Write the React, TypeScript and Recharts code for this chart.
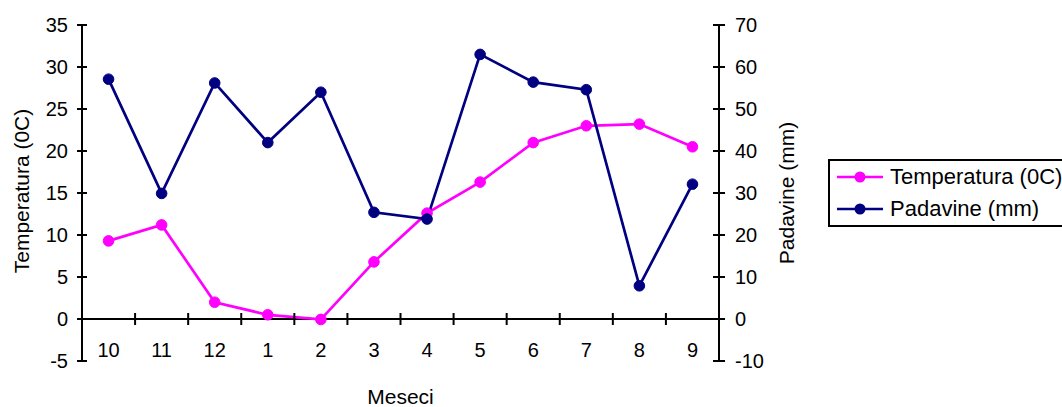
import React from "react";
import {
  Legend,
  Line,
  LineChart,
  ReferenceLine,
  XAxis,
  YAxis,
} from "recharts";

const months = ["10", "11", "12", "1", "2", "3", "4", "5", "6", "7", "8", "9"];
const temperature = [9.3, 11.2, 2.0, 0.5, -0.05, 6.8, 12.6, 16.3, 21.0, 23.0, 23.2, 20.5];
const precipitation = [57.1, 29.9, 56.2, 42.0, 54.0, 25.4, 23.8, 63.0, 56.4, 54.6, 7.9, 32.1];

const tempTicks = [-5, 0, 5, 10, 15, 20, 25, 30, 35];
const rainTicks = [-10, 0, 10, 20, 30, 40, 50, 60, 70];

const seriesNames = ["Temperatura (0C)", "Padavine (mm)"];

const data = months.map((month, i) => ({
  month,
  temp: temperature[i],
  rain: precipitation[i],
}));

const FONT = '"Liberation Sans", Arial, sans-serif';
const TICK_SIZE = 20;
const LABEL_SIZE = 22;
const W = 1062;
const H = 407;
const MARGIN = { top: 25, right: 243, bottom: 0, left: 0 };
const X_AXIS_H = 46;
const PLOT_H = H - MARGIN.top - MARGIN.bottom - X_AXIS_H;
const PLOT_W = W - MARGIN.left - MARGIN.right - 82 - 100;
const TEMP_DOMAIN: [number, number] = [-5, 35];
const RAIN_DOMAIN: [number, number] = [-10, 70];

const PINK = "#ff00ff";
const NAVY = "#000080";

function MonthTick(props: any) {
  const { x, y, payload } = props;
  const idx = months.indexOf(String(payload.value));
  const half = PLOT_W / months.length / 2;
  const zeroY =
    y - ((0 - TEMP_DOMAIN[0]) / (TEMP_DOMAIN[1] - TEMP_DOMAIN[0])) * PLOT_H;
  return (
    <g>
      {idx > 0 && (
        <line
          x1={x - half}
          x2={x - half}
          y1={zeroY - 6}
          y2={zeroY + 6}
          stroke="#000"
          strokeWidth={2}
        />
      )}
      <text
        x={x}
        y={y - 11}
        textAnchor="middle"
        dominantBaseline="central"
        fontFamily={FONT}
        fontSize={TICK_SIZE}
        fill="#000"
      >
        {payload.value}
      </text>
    </g>
  );
}

function LeftTick(props: any) {
  const { x, y, payload } = props;
  return (
    <g>
      <line x1={x - 5} x2={x + 5} y1={y} y2={y} stroke="#000" strokeWidth={2} />
      <text
        x={x - 14}
        y={y}
        textAnchor="end"
        dominantBaseline="central"
        fontFamily={FONT}
        fontSize={TICK_SIZE}
        fill="#000"
      >
        {payload.value}
      </text>
    </g>
  );
}

function RightTick(props: any) {
  const { x, y, payload } = props;
  return (
    <g>
      <line x1={x - 6} x2={x + 6} y1={y} y2={y} stroke="#000" strokeWidth={2} />
      <text
        x={x + 16}
        y={y}
        textAnchor="start"
        dominantBaseline="central"
        fontFamily={FONT}
        fontSize={TICK_SIZE}
        fill="#000"
      >
        {payload.value}
      </text>
    </g>
  );
}

function LegendBox({ payload }: any) {
  const items = [...(payload ?? [])].sort(
    (a: any, b: any) => seriesNames.indexOf(a.value) - seriesNames.indexOf(b.value)
  );
  return (
    <div
      style={{
        border: "2px solid #000",
        background: "#fff",
        width: 260,
        boxSizing: "border-box",
        paddingLeft: 7,
        fontFamily: FONT,
        fontSize: LABEL_SIZE,
        color: "#000",
      }}
    >
      {items.map((entry: any) => (
        <div
          key={entry.value}
          style={{ display: "flex", alignItems: "center", height: 32 }}
        >
          <svg width={46} height={12} style={{ display: "block" }}>
            <line x1={0} y1={6} x2={46} y2={6} stroke={entry.color} strokeWidth={2.5} />
            <circle cx={23} cy={6} r={5.5} fill={entry.color} />
          </svg>
          <span style={{ marginLeft: 7, whiteSpace: "nowrap" }}>{entry.value}</span>
        </div>
      ))}
    </div>
  );
}

export default function App() {
  return (
    <div style={{ width: W, height: H, overflow: "hidden", background: "#fff" }}>
      <style>{"body{margin:0;background:#fff}"}</style>
      <LineChart width={W} height={H} data={data} margin={MARGIN}>
        <XAxis
          dataKey="month"
          xAxisId="x"
          scale="band"
          height={X_AXIS_H}
          axisLine={false}
          tickLine={false}
          tickSize={0}
          tickMargin={0}
          interval={0}
          tick={<MonthTick />}
          label={{
            value: "Meseci",
            position: "insideBottom",
            offset: 3,
            fontFamily: FONT,
            fontSize: LABEL_SIZE - 1,
            fill: "#000",
          }}
        />
        <YAxis
          yAxisId="left"
          domain={TEMP_DOMAIN}
          ticks={tempTicks}
          interval={0}
          width={82}
          axisLine={{ stroke: "#000", strokeWidth: 2 }}
          tickLine={false}
          tickSize={0}
          tickMargin={0}
          tick={<LeftTick />}
          label={{
            value: "Temperatura (0C)",
            angle: -90,
            position: "center",
            dx: -19,
            dy: -2,
            fontFamily: FONT,
            fontSize: LABEL_SIZE - 1,
            fill: "#000",
          }}
        />
        <YAxis
          yAxisId="right"
          orientation="right"
          domain={RAIN_DOMAIN}
          ticks={rainTicks}
          interval={0}
          width={100}
          axisLine={{ stroke: "#000", strokeWidth: 2 }}
          tickLine={false}
          tickSize={0}
          tickMargin={0}
          tick={<RightTick />}
          label={{
            value: "Padavine (mm)",
            angle: -90,
            position: "center",
            dx: 18,
            fontFamily: FONT,
            fontSize: LABEL_SIZE - 1,
            fill: "#000",
          }}
        />
        <ReferenceLine
          y={0}
          yAxisId="left"
          xAxisId="x"
          stroke="#000"
          strokeWidth={2}
        />
        <Line
          xAxisId="x"
          yAxisId="left"
          type="linear"
          dataKey="temp"
          name={seriesNames[0]}
          stroke={PINK}
          strokeWidth={2.7}
          dot={{ r: 5.3, fill: PINK, stroke: PINK, strokeWidth: 1 }}
          activeDot={false}
          isAnimationActive={false}
        />
        <Line
          xAxisId="x"
          yAxisId="right"
          type="linear"
          dataKey="rain"
          name={seriesNames[1]}
          stroke={NAVY}
          strokeWidth={2.7}
          dot={{ r: 5.3, fill: NAVY, stroke: NAVY, strokeWidth: 1 }}
          activeDot={false}
          isAnimationActive={false}
        />
        <Legend
          layout="vertical"
          align="center"
          verticalAlign="middle"
          content={<LegendBox />}
          wrapperStyle={{ left: 828, top: 159, width: 260, right: "auto", bottom: "auto" }}
        />
      </LineChart>
    </div>
  );
}
